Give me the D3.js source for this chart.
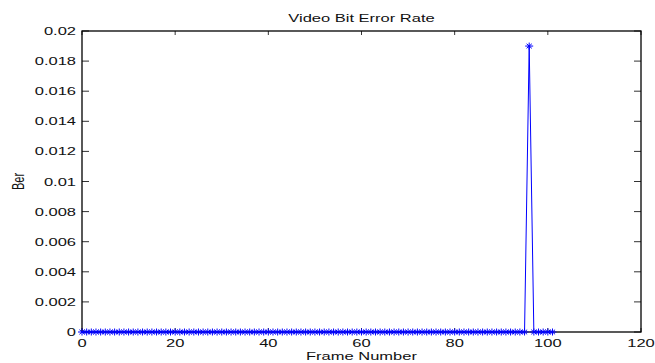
<!DOCTYPE html>
<html>
<head>
<meta charset="utf-8">
<script src="https://cdn.jsdelivr.net/npm/d3@7"></script>
<style>
body { margin: 0; background: #fff; }
text { font-family: "Liberation Sans", Arial, sans-serif; fill: #111; }
</style>
</head>
<body>
<div id="chart"></div>
<script>
// frame numbers 0..101 and bit error rate per frame
var frames = [0,1,2,3,4,5,6,7,8,9,10,11,12,13,14,15,16,17,18,19,20,21,22,23,24,25,26,27,28,29,30,31,32,33,34,35,36,37,38,39,40,41,42,43,44,45,46,47,48,49,50,51,52,53,54,55,56,57,58,59,60,61,62,63,64,65,66,67,68,69,70,71,72,73,74,75,76,77,78,79,80,81,82,83,84,85,86,87,88,89,90,91,92,93,94,95,96,97,98,99,100,101];
var ber = [0,0,0,0,0,0,0,0,0,0, 0,0,0,0,0,0,0,0,0,0, 0,0,0,0,0,0,0,0,0,0, 0,0,0,0,0,0,0,0,0,0, 0,0,0,0,0,0,0,0,0,0, 0,0,0,0,0,0,0,0,0,0, 0,0,0,0,0,0,0,0,0,0, 0,0,0,0,0,0,0,0,0,0, 0,0,0,0,0,0,0,0,0,0, 0,0,0,0,0,0,0.019,0,0,0, 0,0];
var xTicks = [0, 20, 40, 60, 80, 100, 120];
var yTicks = [0, 0.002, 0.004, 0.006, 0.008, 0.01, 0.012, 0.014, 0.016, 0.018, 0.02];

var svgWidth = 655;
var svgHeight = 363;
var margin = {top: 31, right: 14, bottom: 31, left: 82};
var width = svgWidth - margin.left - margin.right;
var height = svgHeight - margin.top - margin.bottom;
var sx = 1.5; // text is stretched wide in the reference

var svg = d3.select("#chart")
.append("svg")
.attr("width", svgWidth)
.attr("height", svgHeight);

var chartGroup = svg.append("g")
.attr("transform", `translate(${margin.left},${margin.top})`);

var xScale = d3.scaleLinear().domain([0, 120]).range([0, width]);
var yScale = d3.scaleLinear().domain([0, 0.02]).range([height, 0]);

function label(g, x, y, txt, anchor, size, rot) {
    return g.append("text")
    .attr("transform", `translate(${x},${y}) scale(${sx},1)` + (rot ? ` rotate(${rot})` : ""))
    .attr("text-anchor", anchor)
    .attr("font-size", size + "px")
    .text(txt);
}

// ticks inward on all four sides
xTicks.forEach(function(t) {
    var x = xScale(t);
    chartGroup.append("line").attr("x1", x).attr("x2", x).attr("y1", height).attr("y2", height - 4)
    .attr("stroke", "#333").attr("stroke-width", 1);
    chartGroup.append("line").attr("x1", x).attr("x2", x).attr("y1", 0).attr("y2", 4)
    .attr("stroke", "#333").attr("stroke-width", 1);
    label(chartGroup, x, height + 15, d3.format("")(t), "middle", 11);
});
yTicks.forEach(function(t) {
    var y = yScale(t);
    chartGroup.append("line").attr("x1", 0).attr("x2", 7).attr("y1", y).attr("y2", y)
    .attr("stroke", "#333").attr("stroke-width", 1);
    chartGroup.append("line").attr("x1", width).attr("x2", width - 7).attr("y1", y).attr("y2", y)
    .attr("stroke", "#333").attr("stroke-width", 1);
    label(chartGroup, -6, y + 4, t === 0 ? "0" : String(+t.toFixed(3)), "end", 11);
});

chartGroup.append("rect")
.attr("x", 0).attr("y", 0)
.attr("width", width).attr("height", height)
.attr("fill", "none")
.attr("stroke", "#000")
.attr("stroke-width", 1.3);

var pts = frames.map((f, i) => [f, ber[i]]);

var line = d3.line()
.x(d => xScale(d[0]))
.y(d => yScale(d[1]));

chartGroup.append("path")
.datum(pts)
.attr("d", line)
.attr("fill", "none")
.attr("stroke", "#0000ff")
.attr("stroke-width", 1);

// star markers
var mk = chartGroup.append("g").selectAll("path")
.data(pts)
.enter()
.append("path")
.attr("transform", d => `translate(${xScale(d[0])},${yScale(d[1])})`)
.attr("d", "M-4,0H4M0,-3.5V3.5M-2.6,-2.3L2.6,2.3M-2.6,2.3L2.6,-2.3")
.attr("fill", "none")
.attr("stroke", "#0000ff")
.attr("stroke-width", 1);

label(svg, margin.left + width / 2, 22, "Video Bit Error Rate", "middle", 11);
label(svg, margin.left + width / 2, 360, "Frame Number", "middle", 11);
label(svg, 24, margin.top + height / 2, "Ber", "middle", 11, -90);
</script>
</body>
</html>
